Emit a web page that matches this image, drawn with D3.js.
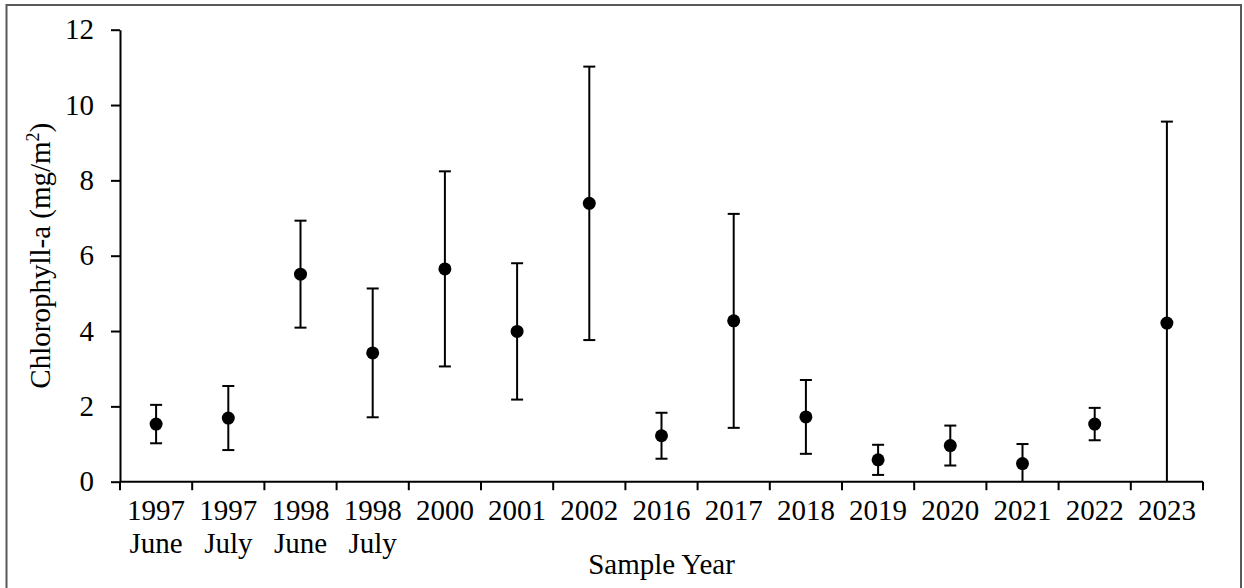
<!DOCTYPE html>
<html>
<head>
<meta charset="utf-8">
<script src="https://cdn.jsdelivr.net/npm/d3@7"></script>
<style>
  html, body { margin: 0; padding: 0; background: #fff; }
  svg { display: block; }
  text { font-family: "Liberation Serif", "Times New Roman", serif; fill: #000; }
</style>
</head>
<body>
<svg id="chart" width="1244" height="588"></svg>
<script>
// Sampling periods (two-line labels) and chlorophyll-a summary statistics
const yearLabels  = ["1997", "1997", "1998", "1998", "2000", "2001", "2002", "2016", "2017", "2018", "2019", "2020", "2021", "2022", "2023"];
const monthLabels = ["June", "July", "June", "July", "", "", "", "", "", "", "", "", "", "", ""];
const meanValues  = [1.53, 1.69, 5.51, 3.42, 5.65, 3.99, 7.39, 1.22, 4.27, 1.72, 0.58, 0.96, 0.48, 1.53, 4.21];
const errorValues = [0.51, 0.85, 1.42, 1.71, 2.59, 1.81, 3.63, 0.61, 2.84, 0.98, 0.40, 0.53, 0.52, 0.43, 5.35];
const yTicks      = [0, 2, 4, 6, 8, 10, 12];

const FONT_SIZE = 29;

const categories = yearLabels.map((y, i) => i);
const rows = categories.map(i => ({
  i, year: yearLabels[i], month: monthLabels[i], mean: meanValues[i], err: errorValues[i]
}));

const svg = d3.select("#chart");

// outer frame
svg.append("rect")
  .attr("x", 6.5).attr("y", 5)
  .attr("width", 1234.5).attr("height", 600)
  .attr("fill", "none")
  .attr("stroke", "#595959")
  .attr("stroke-width", 2);

const x = d3.scaleBand().domain(categories).range([120, 1203]).padding(0);
const y = d3.scaleLinear().domain([0, 12]).range([481.7, 29.7]);

// y axis
const yAxis = svg.append("g")
  .attr("transform", "translate(120,0)")
  .call(d3.axisLeft(y).tickValues(yTicks).tickSize(9).tickSizeOuter(0).tickPadding(17).tickFormat(d3.format("d")));
yAxis.select(".domain").attr("stroke", "#000").attr("stroke-width", 2);
yAxis.selectAll(".tick line").attr("stroke", "#000").attr("stroke-width", 2);
yAxis.selectAll(".tick text").attr("font-size", FONT_SIZE);

// x axis: baseline plus ticks at category boundaries
const x0 = y(0);
const bounds = categories.map(c => x(c)).concat([x(categories[categories.length - 1]) + x.bandwidth()]);
const xAxis = svg.append("g");
xAxis.append("line")
  .attr("x1", x.range()[0]).attr("x2", x.range()[1])
  .attr("y1", x0).attr("y2", x0)
  .attr("stroke", "#000").attr("stroke-width", 2);
xAxis.selectAll("line.tick")
  .data(bounds)
  .join("line")
  .attr("class", "tick")
  .attr("x1", d => d).attr("x2", d => d)
  .attr("y1", x0).attr("y2", x0 + 8.5)
  .attr("stroke", "#000").attr("stroke-width", 2);

const labels = xAxis.selectAll("text.cat")
  .data(rows)
  .join("text")
  .attr("class", "cat")
  .attr("text-anchor", "middle")
  .attr("font-size", FONT_SIZE)
  .attr("x", d => x(d.i) + x.bandwidth() / 2)
  .attr("y", 519.5);
labels.append("tspan").text(d => d.year);
labels.filter(d => d.month).append("tspan")
  .attr("x", d => x(d.i) + x.bandwidth() / 2)
  .attr("dy", 33)
  .text(d => d.month);

// axis titles
svg.append("text")
  .attr("x", (x.range()[0] + x.range()[1]) / 2)
  .attr("y", 573.5)
  .attr("text-anchor", "middle")
  .attr("font-size", FONT_SIZE)
  .text("Sample Year");

const yTitle = svg.append("text")
  .attr("transform", `translate(50,${(y(0) + y(12)) / 2}) rotate(-90)`)
  .attr("text-anchor", "middle")
  .attr("font-size", FONT_SIZE);
yTitle.append("tspan").text("Chlorophyll-a (mg/m");
yTitle.append("tspan").attr("font-size", 18).attr("dy", -11).text("2");
yTitle.append("tspan").attr("dy", 11).text(")");

// error bars (clipped at zero) and mean markers
const marks = svg.append("g");
const cx = d => x(d.i) + x.bandwidth() / 2;
const capHalf = 6;

marks.selectAll("line.err")
  .data(rows)
  .join("line")
  .attr("class", "err")
  .attr("x1", cx).attr("x2", cx)
  .attr("y1", d => y(d.mean + d.err))
  .attr("y2", d => y(Math.max(0, d.mean - d.err)))
  .attr("stroke", "#000").attr("stroke-width", 2);

marks.selectAll("line.capTop")
  .data(rows)
  .join("line")
  .attr("class", "capTop")
  .attr("x1", d => cx(d) - capHalf).attr("x2", d => cx(d) + capHalf)
  .attr("y1", d => y(d.mean + d.err)).attr("y2", d => y(d.mean + d.err))
  .attr("stroke", "#000").attr("stroke-width", 2);

marks.selectAll("line.capBottom")
  .data(rows.filter(d => d.mean - d.err >= 0))
  .join("line")
  .attr("class", "capBottom")
  .attr("x1", d => cx(d) - capHalf).attr("x2", d => cx(d) + capHalf)
  .attr("y1", d => y(d.mean - d.err)).attr("y2", d => y(d.mean - d.err))
  .attr("stroke", "#000").attr("stroke-width", 2);

marks.selectAll("circle")
  .data(rows)
  .join("circle")
  .attr("cx", cx)
  .attr("cy", d => y(d.mean))
  .attr("r", 6.5)
  .attr("fill", "#000");
</script>
</body>
</html>
